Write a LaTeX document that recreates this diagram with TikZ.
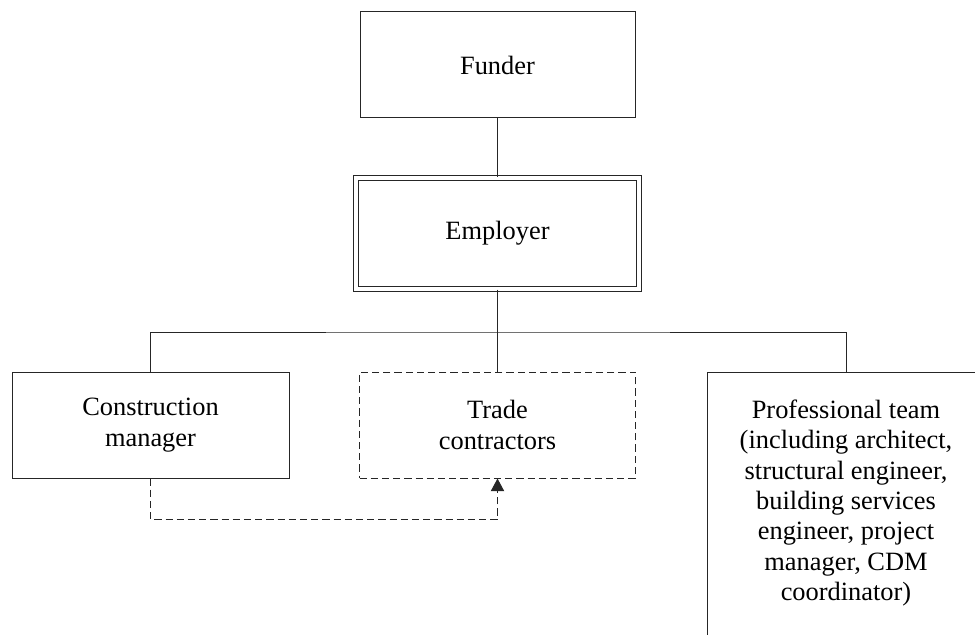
\documentclass[tikz,border=0pt]{standalone}
\usepackage{fontspec}
\setmainfont{Liberation Serif}
\usetikzlibrary{arrows.meta}

\begin{document}
\begin{tikzpicture}[x=0.75pt,y=-0.75pt,
  every node/.style={font=\fontsize{19.8pt}{22.7pt}\selectfont, align=center, inner sep=0pt},
  boxline/.style={draw=black!85, line width=0.75pt},
  orgbox/.style={boxline, rectangle},
  dashbox/.style={orgbox, dash pattern=on 5.4pt off 3pt},
  link/.style={draw=black!85, line width=0.75pt},
  dashlink/.style={link, dash pattern=on 5.4pt off 3pt},
]
\useasboundingbox (0,0) rectangle (975,635);
\clip (0,0) rectangle (975,635);

% top of the hierarchy
\node[orgbox, minimum width=206.25pt, minimum height=79.5pt] (funder) at (497.5,65) {Funder};
\node[orgbox, double, double distance=3pt, minimum width=212.25pt, minimum height=83.6pt] (employer) at (497.5,233.5) {Employer};

% second tier
\node[orgbox, minimum width=207.75pt, minimum height=79.5pt] (cm) at (150.5,425) {Construction\\manager};
\node[dashbox, minimum width=207pt, minimum height=79.5pt] (tc) at (497.5,425) {Trade\\contractors};

% professional team box runs past the right and bottom edges
\node[orgbox, minimum width=208.5pt, minimum height=225pt, anchor=north west] (pro) at (707,372) {};
\node (protext) at (846,503) {Professional team\\(including architect,\\structural engineer,\\building services\\engineer, project\\manager, CDM\\coordinator)};

% connectors
\coordinate (bus) at (497.5,332);
\coordinate (proin) at (846,372);
\draw[link] (funder.south) -- (employer.north);
\draw[link] (employer.south) -- (bus);
\draw[link] (cm.north) |- (bus) -| (proin);
\draw[link] (bus) -- (tc.north);
\draw[dashlink, -{Triangle[width=10pt,length=9.5pt]}] (cm.south) -- ++(0,41) -| (tc.south);
\end{tikzpicture}
\end{document}
